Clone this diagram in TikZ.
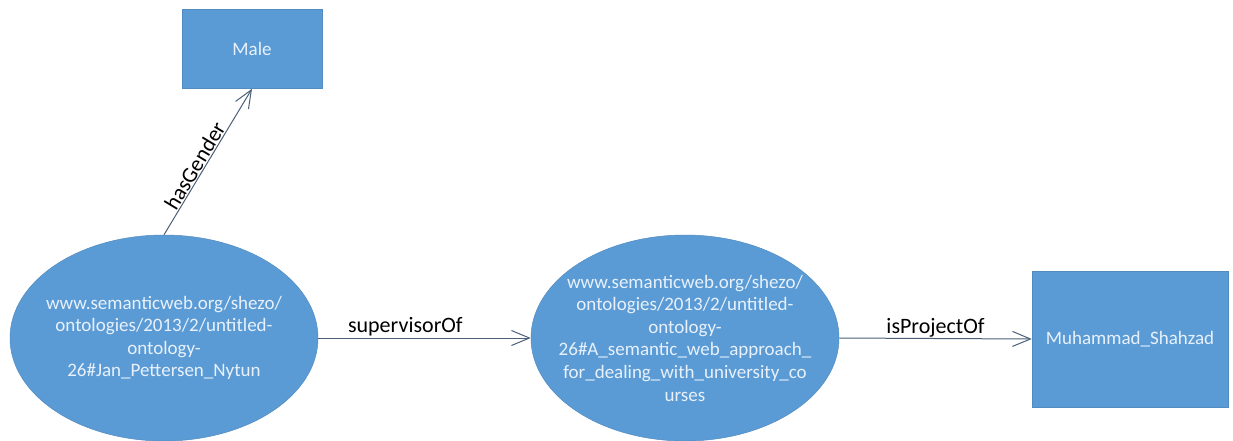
\documentclass[tikz,border=0pt]{standalone}
\usepackage{fontspec}
\setmainfont{Carlito}
\usetikzlibrary{shapes.geometric, arrows.meta}
\definecolor{nodeblue}{RGB}{91, 155, 213}
\definecolor{nodetext}{RGB}{232, 241, 251}
\definecolor{edgecol}{RGB}{75, 95, 120}

\begin{document}
\begin{tikzpicture}[x=1pt, y=-1pt,
		entity/.style={ellipse, fill=nodeblue, draw=nodeblue!90!black, line width=0.5pt,
			text=nodetext, align=center, font=\fontsize{19}{22.6}\selectfont,
			inner xsep=-20pt, inner ysep=0pt, minimum width=308, minimum height=206},
		literal/.style={rectangle, fill=nodeblue, draw=nodeblue!90!black, line width=0.5pt,
			text=nodetext, font=\fontsize{19}{22}\selectfont, inner sep=0pt},
		rel/.style={draw=edgecol, line width=1pt, -{Straight Barb[length=18pt, width=15pt, line width=1pt]}},
		rellabel/.style={font=\fontsize{22}{24}\selectfont, text=black, inner sep=1pt}]
			\useasboundingbox (0,0) rectangle (1233,440);

			% individuals
			\node[entity] (jan) at (164, 338)
				{www.semanticweb.org/shezo/\\ontologies/2013/2/untitled-\\ontology-\\26\#Jan\_Pettersen\_Nytun};
			\node[entity] (proj) at (685, 338)
				{www.semanticweb.org/shezo/\\ontologies/2013/2/untitled-\\ontology-\\26\#A\_semantic\_web\_approach\_\\for\_dealing\_with\_university\_co\\urses};

			% literals
			\node[literal, minimum width=140, minimum height=79] (male) at (252, 49) {Male};
			\node[literal, minimum width=196, minimum height=136] (student) at (1130, 339) {Muhammad\_Shahzad};

			% properties
			\draw[rel] (jan.north) -- (male.south)
				node[rellabel, pos=0.44, sloped, above] {hasGender};
			\draw[rel] (jan.east) -- (proj.west)
				node[rellabel, pos=0.41, above] {supervisorOf};
			\draw[rel] (proj.east) -- (student.west)
				node[rellabel, midway, above] {isProjectOf};

		\end{tikzpicture}
\end{document}
